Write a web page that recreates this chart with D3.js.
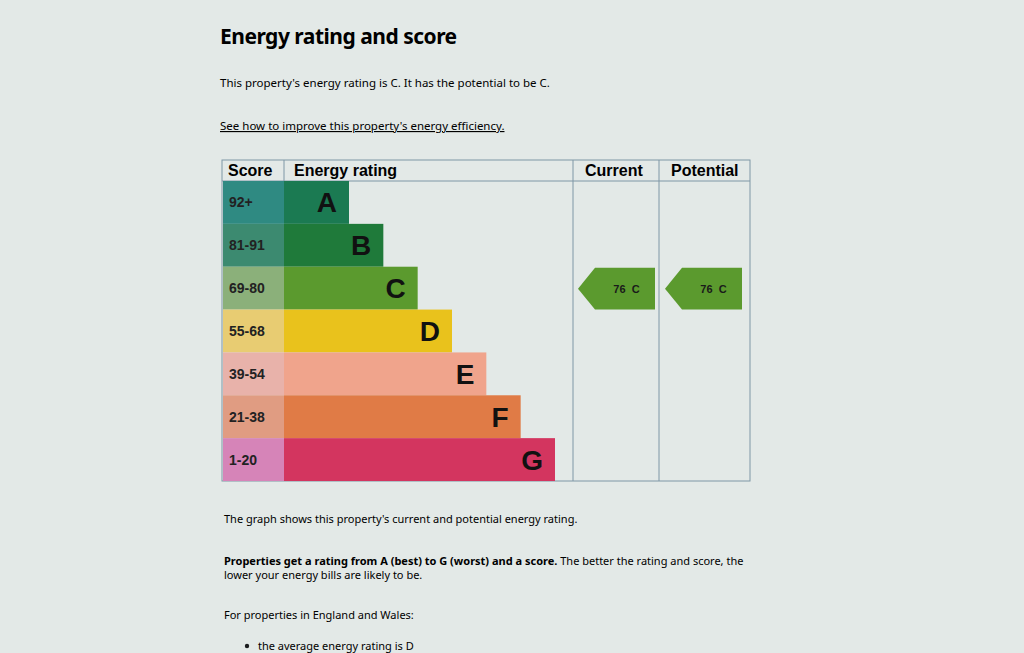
<!DOCTYPE html>
<html><head><meta charset="utf-8">
<script src="https://cdn.jsdelivr.net/npm/d3@7"></script>
<style>
body{margin:0;background:#e3e9e7;font-family:"Noto Sans",sans-serif;color:#1b1d1e;}
svg{display:block}
</style></head>
<body><svg id="c" width="1024" height="653"></svg>
<script>
var bands = ["A","B","C","D","E","F","G"];
var scores = ["92+","81-91","69-80","55-68","39-54","21-38","1-20"];
var barColors = ["#1b7a52","#1f7a3a","#5b9a2e","#e9c21c","#f0a48c","#e07b46","#d3355f"];
var scoreColors = ["#2f8a82","#3c8a70","#8bb07a","#e8cc72","#e8b2aa","#e09c82","#d684b8"];
var current = {value: 76, band: "C"};
var potential = {value: 76, band: "C"};

var svg = d3.select("#c");

svg.append("text").attr("x",220).attr("y",44).attr("font-size",21).attr("font-weight","bold").attr("letter-spacing","-0.5")
  .text("Energy rating and score");
svg.append("text").attr("x",220).attr("y",87).attr("font-size",11.5)
  .text("This property's energy rating is C. It has the potential to be C.");
svg.append("text").attr("x",220).attr("y",130).attr("font-size",11.5).attr("text-decoration","underline")
  .text("See how to improve this property's energy efficiency.");

var y = d3.scaleBand().domain(bands).range([181,481]);
var xw = d3.scaleLinear().domain([0,6]).range([349,555]);

// table frame
var g = svg.append("g");
g.append("rect").attr("x",222).attr("y",160).attr("width",528).attr("height",321).attr("fill","none").attr("stroke","#7f97a6");
g.append("line").attr("x1",222).attr("x2",750).attr("y1",181).attr("y2",181).attr("stroke","#7f97a6");
[284,573,659].forEach(function(x,i){
  g.append("line").attr("x1",x).attr("x2",x).attr("y1",160).attr("y2",i==0?181:481).attr("stroke","#7f97a6");
});
[["Score",228],["Energy rating",294],["Current",585],["Potential",671]].forEach(function(d){
  g.append("text").attr("x",d[1]).attr("y",176).attr("font-size",16).attr("font-weight","bold")
    .attr("font-family","Liberation Sans, Arial").text(d[0]);
});

bands.forEach(function(b,i){
  g.append("rect").attr("x",223).attr("y",y(b)).attr("width",61).attr("height",y.bandwidth()).attr("fill",scoreColors[i]);
  g.append("rect").attr("x",284).attr("y",y(b)).attr("width",xw(i)-284).attr("height",y.bandwidth()).attr("fill",barColors[i]);
  g.append("text").attr("x",229).attr("y",y(b)+y.bandwidth()/2+5).attr("font-size",14).attr("font-weight","bold")
    .attr("font-family","Liberation Sans, Arial").attr("fill","#222").text(scores[i]);
  g.append("text").attr("x",xw(i)-12).attr("y",y(b)+y.bandwidth()/2+10).attr("text-anchor","end").attr("font-size",28)
    .attr("font-weight","bold").attr("font-family","Liberation Sans, Arial").attr("fill","#111").text(b);
});

function arrow(x0,x1,r){
  var i = bands.indexOf(r.band), t = y(r.band)+1, h = y.bandwidth()-1;
  svg.append("path").attr("d","M"+x0+","+(t+h/2)+"L"+(x0+17)+","+t+"L"+x1+","+t+"L"+x1+","+(t+h)+"L"+(x0+17)+","+(t+h)+"Z")
    .attr("fill",barColors[i]);
  svg.append("text").attr("x",(x0+x1)/2+10).attr("y",t+h/2+4).attr("text-anchor","middle").attr("font-size",11)
    .attr("font-weight","bold").attr("font-family","Liberation Sans, Arial").attr("fill","#1a1a1a").attr("xml:space","preserve")
    .text(r.value+"  "+r.band);
}
arrow(578,655,current);
arrow(665,742,potential);

svg.append("text").attr("x",224).attr("y",523).attr("font-size",11).text("The graph shows this property's current and potential energy rating.");
var t = svg.append("text").attr("x",224).attr("y",565).attr("font-size",11);
t.append("tspan").attr("font-weight","bold").text("Properties get a rating from A (best) to G (worst) and a score.");
t.append("tspan").text(" The better the rating and score, the");
svg.append("text").attr("x",224).attr("y",579).attr("font-size",11).text("lower your energy bills are likely to be.");
svg.append("text").attr("x",224).attr("y",619).attr("font-size",11).text("For properties in England and Wales:");
svg.append("circle").attr("cx",247).attr("cy",646).attr("r",2.2).attr("fill","#1b1d1e");
svg.append("text").attr("x",258).attr("y",650).attr("font-size",11).text("the average energy rating is D");
</script></body></html>
